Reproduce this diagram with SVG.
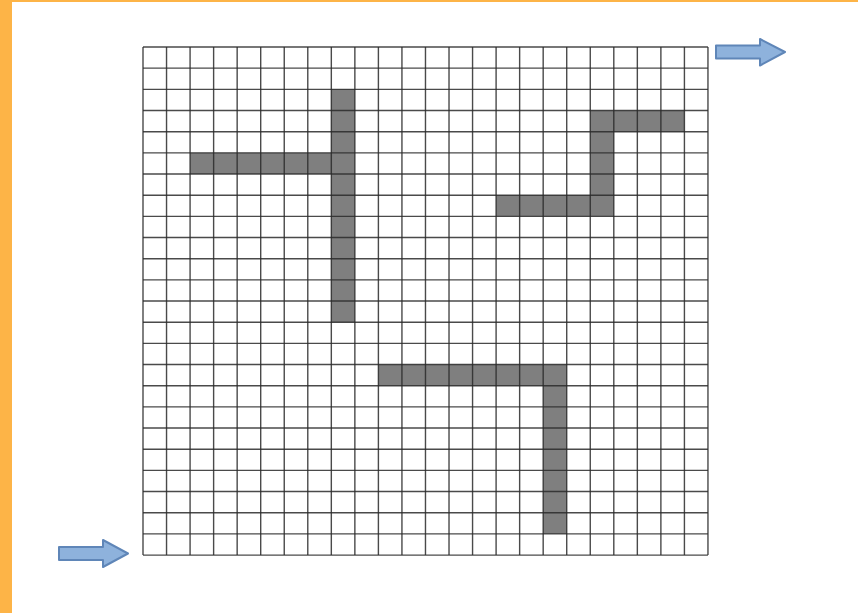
<svg xmlns="http://www.w3.org/2000/svg" width="858" height="613" viewBox="0 0 858 613">
  <style>
    .bar { fill: #7f7f7f; }
    .grid { stroke: #2a2a2a; stroke-width: 1.4; fill: none; stroke-opacity: 0.85; }
    .arrow { fill: #8eb2dc; stroke: #5f86b8; stroke-width: 2; stroke-linejoin: round; }
  </style>
  <rect x="0" y="0" width="858" height="613" fill="#ffffff"/>
  <g id="frame">
    <rect x="0" y="0" width="12" height="613" fill="#fdb447"/>
    <rect x="0" y="0" width="858" height="2" fill="#fdb447"/>
  </g>
  <g id="walls">
    <path id="wall-1" class="bar" d="M331.32 89.34H354.86V322.21H331.32V174.02H190.08V152.85H331.32Z"/>
    <path id="wall-2" class="bar" d="M590.26 110.51H684.42V131.68H613.8V216.36H496.1V195.19H590.26Z"/>
    <path id="wall-3" class="bar" d="M378.4 364.55H566.72V533.91H543.18V385.72H378.4Z"/>
  </g>
  <g id="grid">
    <path class="grid" d="M143 47V555.08M166.54 47V555.08M190.08 47V555.08M213.62 47V555.08M237.16 47V555.08M260.7 47V555.08M284.24 47V555.08M307.78 47V555.08M331.32 47V555.08M354.86 47V555.08M378.4 47V555.08M401.94 47V555.08M425.48 47V555.08M449.02 47V555.08M472.56 47V555.08M496.1 47V555.08M519.64 47V555.08M543.18 47V555.08M566.72 47V555.08M590.26 47V555.08M613.8 47V555.08M637.34 47V555.08M660.88 47V555.08M684.42 47V555.08M707.96 47V555.08"/>
    <path class="grid" d="M143 47H707.96M143 68.17H707.96M143 89.34H707.96M143 110.51H707.96M143 131.68H707.96M143 152.85H707.96M143 174.02H707.96M143 195.19H707.96M143 216.36H707.96M143 237.53H707.96M143 258.7H707.96M143 279.87H707.96M143 301.04H707.96M143 322.21H707.96M143 343.38H707.96M143 364.55H707.96M143 385.72H707.96M143 406.89H707.96M143 428.06H707.96M143 449.23H707.96M143 470.4H707.96M143 491.57H707.96M143 512.74H707.96M143 533.91H707.96M143 555.08H707.96"/>
  </g>
  <g id="connectors">
    <polygon id="exit-arrow" class="arrow" points="716,45.5 760,45.5 760,39 785,52 760,65.5 760,58.5 716,58.5"/>
    <polygon id="entry-arrow" class="arrow" points="59,547 103,547 103,540 128,553.5 103,567 103,560 59,560"/>
  </g>
</svg>
